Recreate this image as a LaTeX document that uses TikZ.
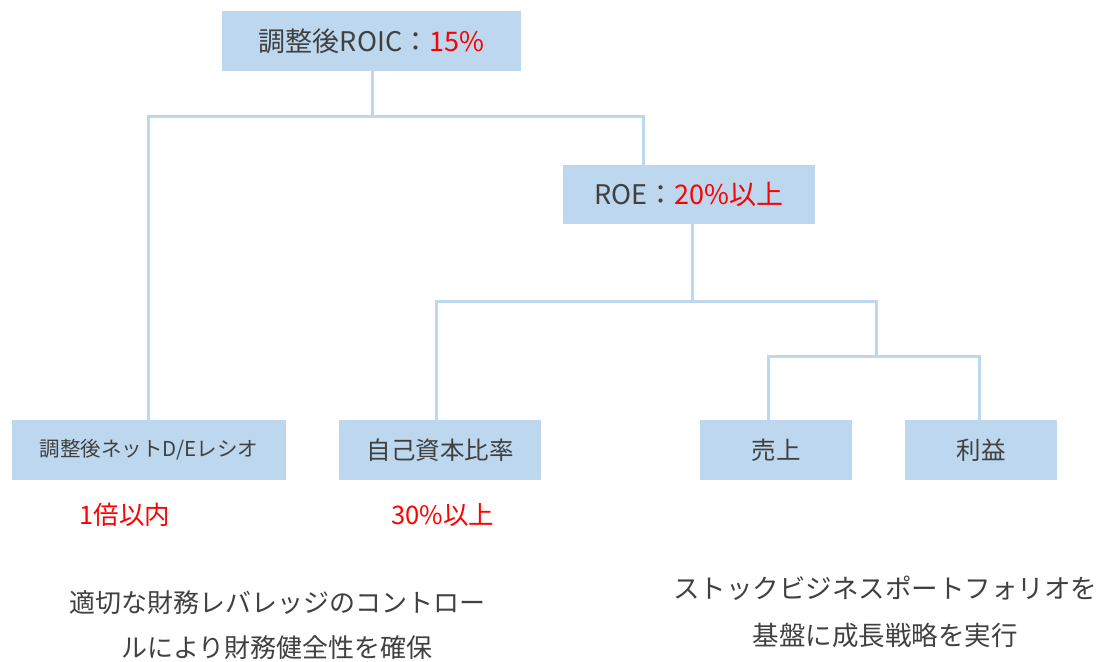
\documentclass[tikz,border=0pt]{standalone}
\usepackage{fontspec}
\setmainfont{Noto Sans CJK JP}
\definecolor{boxblue}{HTML}{BDD7EE}
\definecolor{txtgray}{HTML}{404040}
\definecolor{hired}{HTML}{FF0000}
\tikzset{
  kpibox/.style={fill=boxblue, draw=none, text=txtgray, minimum height=60pt, inner sep=0pt, font=\fontsize{24.5}{28}\selectfont},
  link/.style={draw=boxblue, line width=3pt},
  redlabel/.style={text=hired, font=\fontsize{25.5}{28}\selectfont, inner sep=0pt},
  note/.style={text=txtgray, align=center, inner sep=0pt},
}
\begin{document}
\begin{tikzpicture}[x=1pt,y=-1pt]
\useasboundingbox (0,0) rectangle (1099,661);
% boxes
\node[kpibox, minimum width=299pt, font=\fontsize{27}{30}\selectfont] (roic) at (371.5,41) {調整後ROIC：\textcolor{hired}{15\%}};
\node[kpibox, minimum width=252pt, minimum height=59pt, font=\fontsize{27}{30}\selectfont] (roe) at (689,194.5) {ROE：\textcolor{hired}{20\%以上}};
\node[kpibox, minimum width=274pt, font=\fontsize{20.5}{24}\selectfont] (de) at (149,450) {調整後ネットD/Eレシオ};
\node[kpibox, minimum width=202pt] (equity) at (440,450) {自己資本比率};
\node[kpibox, minimum width=152pt] (sales) at (776,450) {売上};
\node[kpibox, minimum width=152pt] (profit) at (981,450) {利益};
% junctions
\coordinate (j1) at (372,116);
\coordinate (j2) at (692,301);
\coordinate (j3) at (876,356);
% connectors
\draw[link] ([xshift=0.5pt]roic.south) -- (j1);
\draw[link] (j1) -| ([xshift=-1pt]de.north);
\draw[link] (j1) -| ([xshift=-46pt]roe.north);
\draw[link] ([xshift=3pt]roe.south) -- (j2);
\draw[link] (j2) -| ([xshift=-4pt]equity.north);
\draw[link] (j2) -| (j3);
\draw[link] (j3) -| ([xshift=-8pt]sales.north);
\draw[link] (j3) -| ([xshift=-2pt]profit.north);
% labels
\node[redlabel] (deval) at (125,515) {1倍以内};
\node[redlabel] (eqval) at (443,515) {30\%以上};
\node[note, font=\fontsize{26}{45}\selectfont] (leftnote) at (277,625.5) {適切な財務レバレッジのコントロー\\ルにより財務健全性を確保};
\node[note, font=\fontsize{26.5}{47}\selectfont] (rightnote) at (885,611.5) {ストックビジネスポートフォリオを\\基盤に成長戦略を実行};
\end{tikzpicture}
\end{document}
